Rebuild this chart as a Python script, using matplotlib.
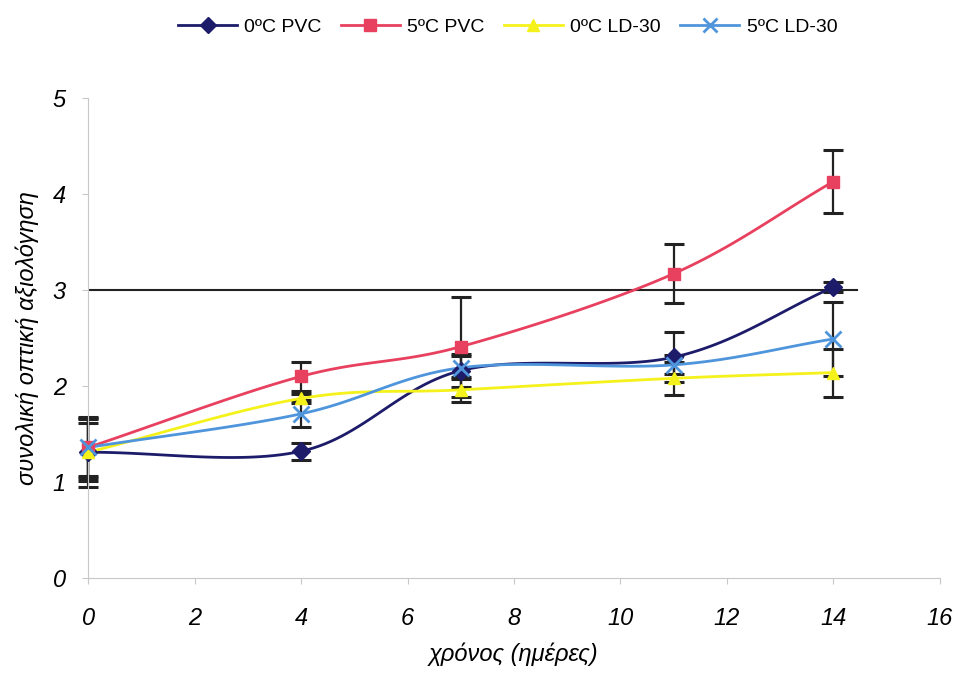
import numpy as np
import matplotlib
matplotlib.use("Agg")
import matplotlib.pyplot as plt
from matplotlib.lines import Line2D

plt.rcParams['font.family'] = ['Liberation Sans', 'DejaVu Sans']

days = [0, 4, 7, 11, 14]
pvc0 = [1.31, 1.32, 2.16, 2.30, 3.03]
pvc0_err = [0.36, 0.09, 0.17, 0.26, 0.05]
pvc5 = [1.36, 2.10, 2.41, 3.17, 4.13]
pvc5_err = [0.32, 0.15, 0.52, 0.31, 0.33]
ld0 = [1.31, 1.87, 1.96, 2.08, 2.14]
ld0_err = [0.30, 0.05, 0.13, 0.17, 0.25]
ld5 = [1.36, 1.71, 2.19, 2.22, 2.49]
ld5_err = [0.30, 0.14, 0.12, 0.10, 0.39]
threshold = 3
labels = ['0ºC PVC', '5ºC PVC', '0ºC LD-30', '5ºC LD-30']
colors = ['#1c1c6b', '#e8405f', '#f4f21a', '#4f95dc']
markers = ['D', 's', '^', 'x']


def smooth(x, y, n=30):
    # Catmull-Rom rendering of the line through the data points
    x = np.asarray(x, float); y = np.asarray(y, float)
    P = np.column_stack([x, y])
    P = np.vstack([2 * P[0] - P[1], P, 2 * P[-1] - P[-2]])
    out = []
    for i in range(1, len(P) - 2):
        p0, p1, p2, p3 = P[i - 1], P[i], P[i + 1], P[i + 2]
        t = np.linspace(0, 1, n)[:, None]
        pts = 0.5 * ((2 * p1) + (-p0 + p2) * t + (2 * p0 - 5 * p1 + 4 * p2 - p3) * t ** 2
                     + (-p0 + 3 * p1 - 3 * p2 + p3) * t ** 3)
        out.append(pts)
    out = np.vstack(out)
    return out[:, 0], out[:, 1]


fig = plt.figure(figsize=(9.58, 6.76), dpi=100)
ax = fig.add_axes([0.092, 0.145, 0.889, 0.71])

series = [(pvc0, pvc0_err), (pvc5, pvc5_err), (ld0, ld0_err), (ld5, ld5_err)]
for (vals, errs), c, m, lab in zip(series, colors, markers, labels):
    eb = ax.errorbar(days, vals, yerr=errs, fmt='none', ecolor='#222222', elinewidth=1.6,
                     capsize=7, capthick=2.2, zorder=2)
    for art in eb.lines[1] + eb.lines[2]:
        art.set_clip_on(False)
for (vals, errs), c, m, lab in zip(series, colors, markers, labels):
    sx, sy = smooth(days, vals)
    ax.plot(sx, sy, color=c, lw=2, zorder=3, clip_on=False)
    ms = 9 if m != 'x' else 11
    ax.plot(days, vals, linestyle='none', marker=m, color=c, markersize=ms,
            markeredgewidth=2 if m == 'x' else 1, zorder=4, clip_on=False)

ax.plot([0, 14.45], [threshold, threshold], color='#222222', lw=1.5, zorder=1)

ax.set_xlim(0, 16)
ax.set_ylim(0, 5)
ax.set_xticks(range(0, 17, 2))
ax.set_yticks(range(0, 6))
for s in ['top', 'right']:
    ax.spines[s].set_visible(False)
for s in ['left', 'bottom']:
    ax.spines[s].set_color('#c8c8c8')
ax.tick_params(length=4, color='#c8c8c8', labelsize=17)
ax.tick_params(axis='x', pad=17)
ax.tick_params(axis='y', pad=12)
for t in ax.get_xticklabels() + ax.get_yticklabels():
    t.set_fontstyle('italic')
ax.set_ylabel('συνολική οπτική αξιολόγηση', fontsize=17, fontstyle='italic', labelpad=10)
ax.set_xlabel('χρόνος (ημέρες)', fontsize=17, fontstyle='italic', labelpad=9)

handles = [Line2D([], [], color=c, marker=m, lw=2, markersize=8 if m != 'x' else 10,
                  markeredgewidth=2 if m == 'x' else 1)
           for c, m in zip(colors, markers)]
fig.legend(handles, labels, loc='center', bbox_to_anchor=(0.53, 0.96), ncol=4,
           frameon=False, fontsize=14, handlelength=3, columnspacing=1.0, handletextpad=0.4)

fig.savefig('out.png', dpi=100)
